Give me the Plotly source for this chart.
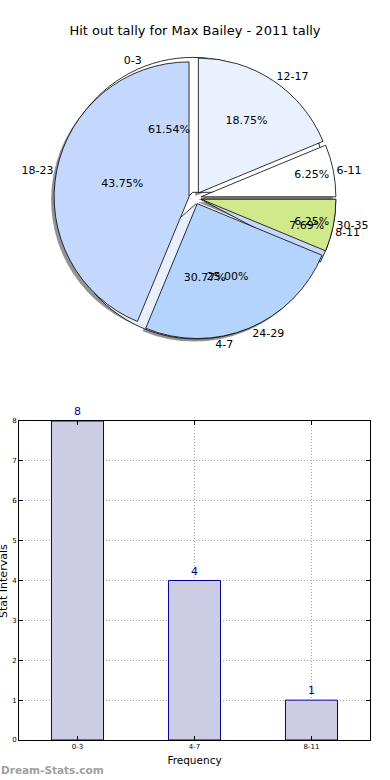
import plotly.graph_objects as go

title = "Hit out tally for Max Bailey - 2011 tally"

# Pie A (frequency groups) - drawn clockwise from 3 o'clock in reverse order
freq_labels = ["0-3", "4-7", "8-11"]
freq_values = [8, 4, 1]
freq_colors = ["#ffffff", "#e8f0fd", "#c5d8fb"]

# Pie B (stat intervals)
stat_labels = ["12-17", "6-11", "30-35", "24-29", "18-23"]
stat_values = [3, 1, 1, 4, 7]
stat_colors = ["#eaf1fe", "#ffffff", "#cfe98b", "#b4d4fd", "#c4d8fd"]

# Bar chart
bar_cats = ["0-3", "4-7", "8-11"]
bar_vals = [8, 4, 1]

FONT = "DejaVu Sans"
W, H = 390, 780
ML, MR, MT, MB = 19, 20, 0, 40
PW, PH = W - ML - MR, H - MT - MB

def px_x(x):
    return (x - ML) / PW

def px_y(y):
    return (H - MB - y) / PH

cx, cy, half = 195, 198, 141
dom = dict(x=[px_x(cx - half), px_x(cx + half)], y=[px_y(cy + half), px_y(cy - half)])
sdom = dict(x=[px_x(cx - half - 3), px_x(cx + half - 3)], y=[px_y(cy + half + 3), px_y(cy - half + 3)])
PULL = 0.045

fa_labels = freq_labels[::-1]
fa_values = freq_values[::-1]
fa_colors = freq_colors[::-1]

fig = go.Figure()

# shadow
fig.add_trace(go.Pie(values=stat_values, labels=stat_labels, domain=sdom, sort=False,
                     direction="clockwise", rotation=0, pull=[PULL] * len(stat_values),
                     marker=dict(colors=["rgba(60,60,60,0.55)"] * len(stat_values), line=dict(width=0)),
                     textinfo="none", showlegend=False, hoverinfo="skip"))
# pie A (under)
fig.add_trace(go.Pie(values=fa_values, labels=fa_labels, domain=dom, sort=False,
                     direction="clockwise", rotation=90, pull=[PULL] * len(fa_values),
                     marker=dict(colors=fa_colors, line=dict(color="#000000", width=0.8)),
                     textinfo="none", showlegend=False))
# pie B (over)
fig.add_trace(go.Pie(values=stat_values, labels=stat_labels, domain=dom, sort=False,
                     direction="clockwise", rotation=0, pull=[PULL] * len(stat_values),
                     marker=dict(colors=stat_colors, line=dict(color="#000000", width=0.8)),
                     textinfo="none", showlegend=False))

clear = "rgba(0,0,0,0)"
for vals, labs, rot in [(fa_values, fa_labels, 90), (stat_values, stat_labels, 0)]:
    fig.add_trace(go.Pie(values=vals, labels=labs, domain=dom, sort=False,
                         direction="clockwise", rotation=rot, pull=[PULL] * len(vals),
                         marker=dict(colors=[clear] * len(vals), line=dict(width=0)),
                         texttemplate="%{percent:.2%}", textposition="inside",
                         insidetextorientation="horizontal",
                         insidetextfont=dict(family=FONT, size=11, color="#000000"),
                         showlegend=False, hoverinfo="skip"))
    fig.add_trace(go.Pie(values=vals, labels=labs, domain=dom, sort=False,
                         direction="clockwise", rotation=rot, pull=[PULL] * len(vals),
                         marker=dict(colors=[clear] * len(vals), line=dict(width=0)),
                         textinfo="label", textposition="outside",
                         outsidetextfont=dict(family=FONT, size=11, color="#000000"),
                         showlegend=False, hoverinfo="skip"))

fig.add_trace(go.Bar(x=bar_cats, y=bar_vals, width=0.445,
                     marker=dict(color="#ccccE5", line=dict(color="#00008b", width=1)),
                     text=[str(v) for v in bar_vals], textposition="outside",
                     textfont=dict(family=FONT, size=11, color="#00008b"),
                     cliponaxis=False, showlegend=False, xaxis="x", yaxis="y"))

axis_common = dict(showline=True, linecolor="#000000", linewidth=1, mirror="ticks",
                   ticks="inside", ticklen=4, tickcolor="#000000",
                   showgrid=True, gridcolor="#a8a8a8", griddash="1px,2px", gridwidth=1,
                   tickfont=dict(family=FONT, size=7, color="#000000"),
                   zeroline=False, fixedrange=True, automargin=False)

fig.update_layout(
    width=W, height=H,
    margin=dict(l=ML, r=MR, t=MT, b=MB, autoexpand=False),
    paper_bgcolor="white", plot_bgcolor="white",
    font=dict(family=FONT, color="#000000"),
    title=dict(text=title, x=0.5, xanchor="center", y=1 - 30 / H, yanchor="middle",
               font=dict(family=FONT, size=13, color="#000000"), automargin=False),
    xaxis=dict(domain=[0, 1], range=[-0.5, 2.5], type="category",
               title=dict(text="Frequency", font=dict(family=FONT, size=10.5), standoff=6),
               **axis_common),
    yaxis=dict(domain=[0, px_y(421)], range=[0, 8], dtick=1, **axis_common),
    annotations=[
        dict(text="Stat Intervals", textangle=-90, xref="paper", yref="paper",
             x=px_x(3), y=px_y(581), xanchor="center", yanchor="middle", showarrow=False,
             font=dict(family=FONT, size=11, color="#000000")),
        dict(text="<b>Dream-Stats.com</b>", xref="paper", yref="paper",
             x=px_x(-1), y=px_y(770), xanchor="left", yanchor="middle", showarrow=False,
             font=dict(family=FONT, size=10.5, color="#a0a0a0")),
    ],
)

fig.write_html("out.html", config={"displayModeBar": False},
               post_script="document.body.style.margin='0px';document.body.style.overflow='hidden';")
